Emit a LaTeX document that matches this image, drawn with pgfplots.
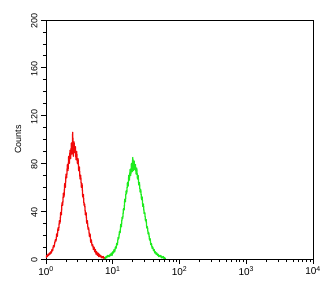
\documentclass[border=0pt]{standalone}
\usepackage{pgfplots}
\pgfplotsset{compat=1.18}
\usepackage{pgfplotstable}
\usepackage{fontspec}
\setmainfont{Liberation Sans}
\definecolor{redh}{RGB}{240,10,10}
\definecolor{greenh}{RGB}{30,235,30}
\pgfplotstableread{
u c
0.00 1
0.01 3
0.02 2
0.03 4
0.04 3
0.05 5
0.06 4
0.07 6
0.08 5
0.09 8
0.10 7
0.11 11
0.12 10
0.13 13
0.14 16
0.15 15
0.16 21
0.17 19
0.18 26
0.19 24
0.20 32
0.21 30
0.22 39
0.23 37
0.24 47
0.25 45
0.26 55
0.27 52
0.28 63
0.29 60
0.30 71
0.31 68
0.32 79
0.33 74
0.34 86
0.35 80
0.36 91
0.37 84
0.38 97
0.39 88
0.40 106
0.41 86
0.42 98
0.43 89
0.44 94
0.45 83
0.46 90
0.47 80
0.48 84
0.49 74
0.50 77
0.51 67
0.52 70
0.53 60
0.54 63
0.55 52
0.56 54
0.57 45
0.58 46
0.59 37
0.60 39
0.61 30
0.62 32
0.63 25
0.64 26
0.65 19
0.66 21
0.67 14
0.68 16
0.69 11
0.70 12
0.71 8
0.72 10
0.73 6
0.74 8
0.75 4
0.76 6
0.77 3
0.78 5
0.79 2
0.80 4
0.81 2
0.82 3
0.83 1
0.84 2
0.85 1
0.86 2
0.87 0
0.88 1
0.89 0
0.90 0
}\redtab
\pgfplotstableread{
u c
0.88 0
0.89 1
0.90 2
0.91 1
0.92 3
0.93 2
0.94 3
0.95 2
0.96 4
0.97 3
0.98 5
0.99 3
1.00 6
1.01 5
1.02 8
1.03 6
1.04 10
1.05 9
1.06 13
1.07 12
1.08 18
1.09 17
1.10 23
1.11 22
1.12 29
1.13 27
1.14 35
1.15 34
1.16 42
1.17 41
1.18 50
1.19 48
1.20 57
1.21 55
1.22 64
1.23 61
1.24 70
1.25 66
1.26 75
1.27 70
1.28 80
1.29 73
1.30 85
1.31 74
1.32 82
1.33 75
1.34 79
1.35 71
1.36 76
1.37 67
1.38 70
1.39 62
1.40 64
1.41 56
1.42 58
1.43 50
1.44 52
1.45 44
1.46 46
1.47 38
1.48 39
1.49 32
1.50 33
1.51 26
1.52 27
1.53 21
1.54 22
1.55 16
1.56 17
1.57 12
1.58 13
1.59 9
1.60 10
1.61 7
1.62 8
1.63 5
1.64 6
1.65 4
1.66 5
1.67 3
1.68 4
1.69 2
1.70 3
1.71 2
1.72 3
1.73 1
1.74 2
1.75 1
1.76 2
1.77 0
1.78 1
1.79 0
}\greentab
\begin{document}
\begin{tikzpicture}
\begin{axis}[
  at={(0,0)}, anchor=south west,
  scale only axis, width=267bp, height=239bp,
  xmin=0, xmax=4, ymin=0, ymax=200,
  axis line style={black, line width=0.8pt},
  tick pos=left, tick align=outside,
  major tick length=5bp, minor tick length=3bp,
  tick style={black, line width=0.7pt},
  xtick={0,1,2,3,4},
  xticklabels={10\textsuperscript{0},10\textsuperscript{1},10\textsuperscript{2},10\textsuperscript{3},10\textsuperscript{4}},
  minor xtick={0.301,0.477,0.602,0.699,0.778,0.845,0.903,0.954,
    1.301,1.477,1.602,1.699,1.778,1.845,1.903,1.954,
    2.301,2.477,2.602,2.699,2.778,2.845,2.903,2.954,
    3.301,3.477,3.602,3.699,3.778,3.845,3.903,3.954},
  ytick={0,40,80,120,160,200},
  minor y tick num=3,
  /pgf/number format/assume math mode=true,
  xticklabel style={font=\fontsize{10}{11}\selectfont, yshift=1bp},
  yticklabel style={font=\fontsize{9}{10}\selectfont, rotate=90, anchor=south, xshift=-1bp},
  ylabel={Counts},
  ylabel style={font=\fontsize{9}{10}\selectfont, at={(axis description cs:-0.105,0.5)}, anchor=center},
]
\addplot[redh, line width=1.3pt, line join=round] table[x=u, y=c] {\redtab};
\addplot[greenh, line width=1.3pt, line join=round] table[x=u, y=c] {\greentab};
\end{axis}
\path (-46bp,-36bp) rectangle (287bp,259bp);
\end{tikzpicture}
\end{document}
